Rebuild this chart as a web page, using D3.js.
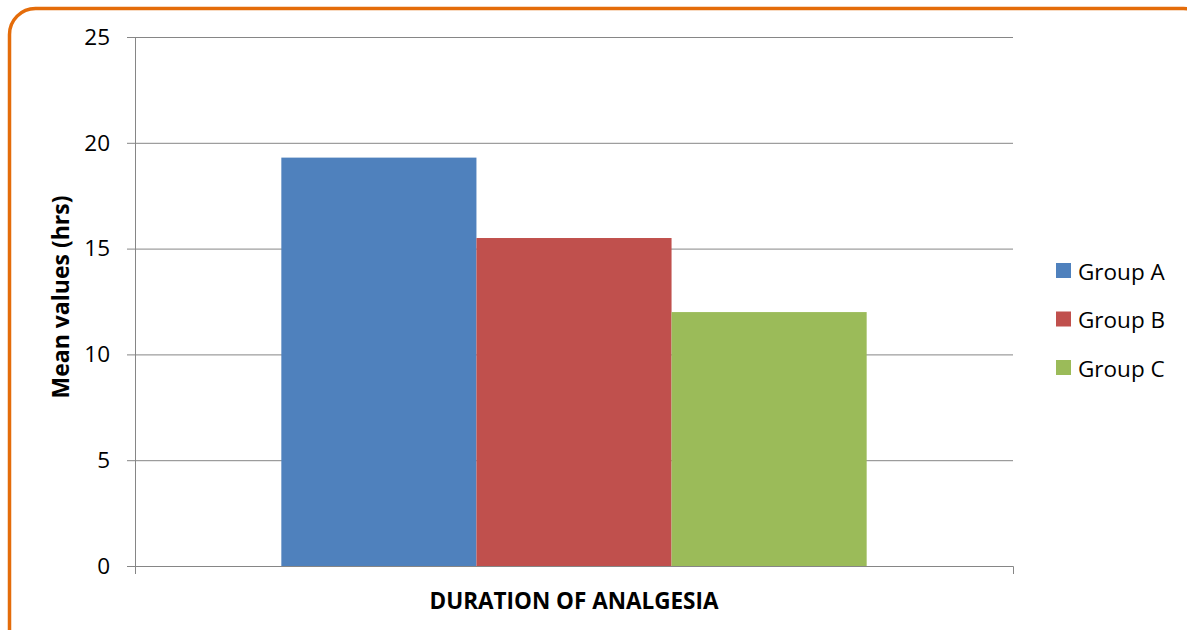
<!DOCTYPE html>
<html>
<head>
<meta charset="utf-8">
<script src="https://cdn.jsdelivr.net/npm/d3@7"></script>
<style>
  body { margin: 0; background: #fff; }
  svg text { font-family: "Open Sans", "Noto Sans", sans-serif; fill: #000; }
  .y-axis .domain, .x-axis .domain { stroke: #868686; }
  .y-axis .tick line { stroke: #868686; }
</style>
</head>
<body>
<div id="chart"></div>
<script>
let width = 1187,
    height = 630,
    margin = ({ top: 37, right: 174, bottom: 64, left: 135 });

// data
const category = ["DURATION OF ANALGESIA"];
const groups = ["Group A", "Group B", "Group C"];
const values = [19.3, 15.5, 12.0];
const yTicks = [0, 5, 10, 15, 20, 25];
const colorRange = ["#4F81BD", "#C0504D", "#9BBB59"];

const svg = d3.select("#chart")
  .append("svg")
  .attr("width", width)
  .attr("height", height);

// orange rounded frame
svg.append("rect")
  .attr("x", 9.5)
  .attr("y", 8.5)
  .attr("width", 1200)
  .attr("height", 700)
  .attr("rx", 26)
  .attr("fill", "none")
  .attr("stroke", "#E46C0A")
  .attr("stroke-width", 3.5);

let y = d3.scaleLinear()
  .domain([0, 25])
  .range([height - margin.bottom, margin.top]);

let x0 = d3.scaleBand()
  .domain(category)
  .range([margin.left, width - margin.right])
  .paddingInner(0)
  .paddingOuter(0.25);

let x1 = d3.scaleBand()
  .domain(groups)
  .range([0, x0.bandwidth()]);

let color = d3.scaleOrdinal().domain(groups).range(colorRange);

// gridlines + y axis
svg.append("g")
  .attr("class", "y-axis")
  .attr("transform", `translate(${margin.left},0)`)
  .call(d3.axisLeft(y).tickValues(yTicks).tickSizeInner(-(width - margin.left - margin.right)).tickSizeOuter(0).tickPadding(25))
  .call(g => g.selectAll(".tick text").attr("font-size", 22.5).style("font-family", "'Open Sans', sans-serif"))
  .call(g => g.selectAll(".tick").append("line")
    .attr("x1", -8).attr("x2", 0).attr("stroke", "#868686"));

// bars
let bars = svg.append("g")
  .selectAll("g")
  .data(category)
  .join("g")
  .attr("transform", d => `translate(${x0(d)},0)`);

bars.selectAll("rect")
  .data(groups.map((g, i) => ({ group: g, value: values[i] })))
  .join("rect")
  .attr("x", d => x1(d.group))
  .attr("y", d => y(d.value))
  .attr("width", x1.bandwidth())
  .attr("height", d => y(0) - y(d.value))
  .attr("fill", d => color(d.group));

// x axis (ticks at category edges)
svg.append("g")
  .attr("class", "x-axis")
  .attr("transform", `translate(0,${height - margin.bottom})`)
  .call(d3.axisBottom(x0).tickValues([]).tickSizeOuter(8));

// axis titles
svg.append("text")
  .attr("x", (margin.left + width - margin.right) / 2)
  .attr("y", 609)
  .attr("text-anchor", "middle")
  .attr("font-weight", "bold")
  .attr("font-size", 22.5)
  .text("DURATION OF ANALGESIA");

svg.append("text")
  .attr("transform", "rotate(-90)")
  .attr("x", -297)
  .attr("y", 69)
  .attr("text-anchor", "middle")
  .attr("font-weight", "bold")
  .attr("font-size", 23)
  .text("Mean values (hrs)");

// legend
let legend = svg.append("g")
  .selectAll("g")
  .data(groups)
  .join("g")
  .attr("transform", (d, i) => `translate(1056,${263 + i * 48.5})`);

legend.append("rect")
  .attr("width", 15)
  .attr("height", 15)
  .attr("fill", d => color(d));

legend.append("text")
  .attr("x", 22)
  .attr("y", 8)
  .attr("dominant-baseline", "central")
  .attr("font-size", 22.5)
  .text(d => d);
</script>
</body>
</html>
